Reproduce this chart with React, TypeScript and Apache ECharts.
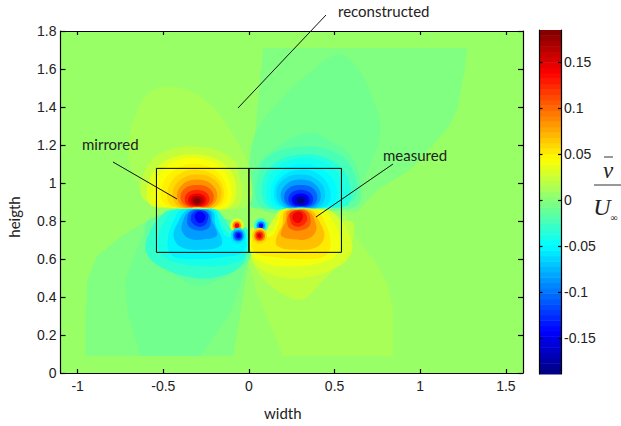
import React, { useEffect, useRef } from "react";
import * as echarts from "echarts";

type Pt = [number, number];
type Ring = { v: number; pts: Pt[]; smooth?: number };

const xTicks = [-1, -0.5, 0, 0.5, 1, 1.5];
const barTicks = [-0.15, -0.1, -0.05, 0, 0.05, 0.1, 0.15];
const backgroundValue = 0.0074;

// faint contours, upper right
const upperRight: Ring[] = [
  { v: -0.002, smooth: 0, pts: [[0.083, 1.71], [1.274, 1.71], [1.26, 1.6], [1.216, 1.384], [1.17, 1.3], [1.1, 1.226], [0.941, 1.068], [0.749, 0.963], [0.632, 0.847], [0.02, 0.88], [0.005, 1.07], [0.03, 1.2], [0.05, 1.4]] },
  { v: -0.007, smooth: 0.4, pts: [[0.008, 1.137], [0.05, 1.279], [0.2, 1.453], [0.358, 1.584], [0.515, 1.674], [0.62, 1.62], [0.726, 1.437], [0.767, 1.279], [0.708, 1.095], [0.64, 0.963], [0.56, 0.86], [0.02, 0.88]] },
  { v: -0.013, smooth: 0.4, pts: [[0.165, 1.19], [0.358, 1.265], [0.457, 1.23], [0.59, 1.15], [0.65, 1.0], [0.63, 0.88], [0.45, 0.87], [0.1, 0.87], [0.01, 0.88], [0.02, 1.05]] },
];
// faint contours, lower right
const lowerRight: Ring[] = [
  { v: 0.013, smooth: 0, pts: [[0.2, 0.089], [0.842, 0.089], [0.842, 0.33], [0.807, 0.474], [0.737, 0.584], [0.65, 0.684], [0.609, 0.753], [0.56, 0.83], [0.02, 0.75], [0.0, 0.58], [0.047, 0.42]] },
  { v: 0.022, smooth: 0.3, pts: [[0.005, 0.62], [0.107, 0.474], [0.3, 0.385], [0.434, 0.49], [0.515, 0.563], [0.573, 0.616], [0.61, 0.726], [0.6, 0.8], [0.02, 0.74]] },
];
// faint contours, upper left
const upperLeft: Ring[] = [
  { v: 0.013, smooth: 0.4, pts: [[0, 1.07], [-0.11, 1.28], [-0.255, 1.437], [-0.43, 1.505], [-0.576, 1.48], [-0.66, 1.36], [-0.7, 1.226], [-0.693, 1.095], [-0.6, 0.95], [-0.3, 0.88], [-0.01, 0.88]] },
];
// faint contours, lower left
const lowerLeft: Ring[] = [
  { v: -0.002, smooth: 0, pts: [[-0.955, 0.089], [-0.092, 0.089], [-0.004, 0.563], [-0.01, 0.72], [-0.4, 0.85], [-0.617, 0.789], [-0.734, 0.726], [-0.886, 0.616], [-0.944, 0.489], [-0.955, 0.279]] },
  { v: -0.007, smooth: 0, pts: [[-0.635, 0.089], [-0.284, 0.089], [-0.109, 0.316], [-0.01, 0.579], [-0.01, 0.7], [-0.4, 0.85], [-0.617, 0.737], [-0.722, 0.489], [-0.71, 0.33]] },
  { v: -0.012, smooth: 0.3, pts: [[0, 0.595], [-0.284, 0.458], [-0.477, 0.542], [-0.594, 0.668], [-0.588, 0.805], [-0.3, 0.85], [-0.01, 0.75]] },
];

// contours of the right half; the left half is the same with x and v negated
const upperLobe: Ring[] = [
  { v: -0.022, pts: [[0.28, 1.19], [0.48, 1.17], [0.6, 1.08], [0.62, 0.92], [0.45, 0.87], [0.3, 0.87], [0.08, 0.87], [0.04, 0.93], [0.05, 1.02], [0.1, 1.13]] },
  { v: -0.035, pts: [[0.3, 1.15], [0.48, 1.12], [0.58, 1.02], [0.58, 0.89], [0.45, 0.87], [0.3, 0.87], [0.12, 0.87], [0.075, 0.97], [0.13, 1.09]] },
  { v: -0.042, pts: [[0.3, 1.13], [0.46, 1.1], [0.545, 1.0], [0.54, 0.89], [0.45, 0.872], [0.3, 0.87], [0.14, 0.872], [0.1, 0.95], [0.15, 1.07]] },
  { v: -0.05, pts: [[0.3, 1.1], [0.43, 1.07], [0.51, 0.98], [0.49, 0.885], [0.4, 0.872], [0.3, 0.87], [0.17, 0.872], [0.125, 0.94], [0.175, 1.05]] },
  { v: -0.058, pts: [[0.3, 1.07], [0.41, 1.045], [0.475, 0.96], [0.45, 0.88], [0.3, 0.871], [0.18, 0.88], [0.145, 0.95], [0.195, 1.035]] },
  { v: -0.068, pts: [[0.3, 1.045], [0.395, 1.02], [0.445, 0.95], [0.41, 0.875], [0.3, 0.872], [0.2, 0.875], [0.16, 0.95], [0.205, 1.02]] },
  { v: -0.085, pts: [[0.303, 1.018], [0.385, 0.995], [0.42, 0.935], [0.39, 0.878], [0.303, 0.873], [0.22, 0.878], [0.185, 0.935], [0.22, 0.995]] },
  { v: -0.105, pts: [[0.303, 0.99], [0.37, 0.975], [0.4, 0.925], [0.37, 0.88], [0.303, 0.874], [0.235, 0.88], [0.205, 0.925], [0.235, 0.975]] },
  { v: -0.125, pts: [[0.303, 0.965], [0.355, 0.95], [0.375, 0.915], [0.355, 0.882], [0.303, 0.876], [0.25, 0.882], [0.23, 0.915], [0.25, 0.95]] },
  { v: -0.145, pts: [[0.303, 0.945], [0.34, 0.935], [0.355, 0.91], [0.34, 0.885], [0.303, 0.878], [0.265, 0.885], [0.25, 0.91], [0.265, 0.935]] },
  { v: -0.165, pts: [[0.303, 0.932], [0.33, 0.925], [0.34, 0.905], [0.325, 0.888], [0.303, 0.882], [0.28, 0.888], [0.265, 0.905], [0.275, 0.925]] },
  { v: -0.183, pts: [[0.303, 0.92], [0.32, 0.915], [0.322, 0.9], [0.303, 0.89], [0.285, 0.9], [0.285, 0.915]] },
];
const lowerLobe: Ring[] = [
  { v: 0.03, pts: [[0.285, 0.86], [0.44, 0.86], [0.5, 0.84], [0.58, 0.74], [0.6, 0.64], [0.52, 0.56], [0.32, 0.5], [0.16, 0.51], [0.05, 0.56], [0.01, 0.63], [0.01, 0.76], [0.1, 0.76], [0.15, 0.82], [0.19, 0.86]] },
  { v: 0.04, pts: [[0.285, 0.86], [0.42, 0.86], [0.47, 0.83], [0.53, 0.72], [0.52, 0.63], [0.42, 0.58], [0.25, 0.56], [0.1, 0.575], [0.02, 0.62], [0.02, 0.74], [0.12, 0.74], [0.16, 0.79], [0.2, 0.86]] },
  { v: 0.052, pts: [[0.285, 0.86], [0.39, 0.86], [0.43, 0.82], [0.475, 0.7], [0.45, 0.62], [0.33, 0.6], [0.15, 0.61], [0.03, 0.64], [0.03, 0.72], [0.13, 0.72], [0.17, 0.78], [0.2, 0.855]] },
  { v: 0.068, pts: [[0.285, 0.86], [0.365, 0.855], [0.41, 0.8], [0.44, 0.72], [0.39, 0.66], [0.25, 0.65], [0.165, 0.67], [0.16, 0.71], [0.195, 0.78], [0.21, 0.85]] },
  { v: 0.085, pts: [[0.285, 0.86], [0.35, 0.85], [0.385, 0.8], [0.39, 0.745], [0.34, 0.705], [0.25, 0.705], [0.19, 0.72], [0.19, 0.75], [0.215, 0.8], [0.225, 0.85]] },
  { v: 0.105, pts: [[0.285, 0.858], [0.34, 0.85], [0.36, 0.81], [0.35, 0.77], [0.3, 0.75], [0.25, 0.755], [0.225, 0.78], [0.235, 0.84]] },
  { v: 0.125, pts: [[0.285, 0.856], [0.325, 0.845], [0.34, 0.81], [0.325, 0.785], [0.29, 0.77], [0.255, 0.78], [0.24, 0.81], [0.24, 0.84]] },
  { v: 0.145, pts: [[0.285, 0.85], [0.31, 0.84], [0.315, 0.815], [0.29, 0.79], [0.262, 0.8], [0.255, 0.83]] },
];
const upperDot: Ring[] = [
  { v: -0.03, pts: [[0.07, 0.815], [0.105, 0.795], [0.105, 0.755], [0.07, 0.74], [0.035, 0.755], [0.035, 0.795]] },
  { v: -0.06, pts: [[0.07, 0.803], [0.095, 0.79], [0.095, 0.76], [0.07, 0.748], [0.045, 0.76], [0.045, 0.79]] },
  { v: -0.09, pts: [[0.07, 0.797], [0.09, 0.787], [0.09, 0.765], [0.07, 0.755], [0.05, 0.765], [0.05, 0.787]] },
  { v: -0.14, pts: [[0.07, 0.788], [0.082, 0.782], [0.082, 0.768], [0.07, 0.762], [0.058, 0.768], [0.058, 0.782]] },
];
const lowerDot: Ring[] = [
  { v: 0.06, pts: [[0.062, 0.765], [0.1, 0.745], [0.1, 0.7], [0.062, 0.68], [0.025, 0.7], [0.025, 0.745]] },
  { v: 0.09, pts: [[0.062, 0.752], [0.09, 0.74], [0.09, 0.705], [0.062, 0.692], [0.035, 0.705], [0.035, 0.74]] },
  { v: 0.12, pts: [[0.062, 0.745], [0.082, 0.735], [0.082, 0.71], [0.062, 0.7], [0.042, 0.71], [0.042, 0.735]] },
  { v: 0.15, pts: [[0.062, 0.735], [0.072, 0.73], [0.072, 0.716], [0.062, 0.71], [0.05, 0.716], [0.05, 0.73]] },
];

const rightWindow: Pt[] = [[0, 0.635], [0.54, 0.635], [0.54, 1.077], [0, 1.077], [0, 0.635]];
const leftWindow: Pt[] = [[0, 0.635], [-0.54, 0.635], [-0.54, 1.077], [0, 1.077], [0, 0.635]];

const barMin = -0.189;
const barMax = 0.185;
const clamp = (n: number) => Math.max(0, Math.min(1, n));
function jet(v: number) {
  const t = (v - barMin) / (barMax - barMin);
  const r = clamp(Math.min(4 * t - 1.5, -4 * t + 4.5));
  const g = clamp(Math.min(4 * t - 0.5, -4 * t + 3.5));
  const b = clamp(Math.min(4 * t + 0.5, -4 * t + 2.5));
  return `rgb(${Math.round(r * 255)},${Math.round(g * 255)},${Math.round(b * 255)})`;
}
const mirror = (rings: Ring[]): Ring[] =>
  rings.map((r) => ({ v: -r.v, smooth: r.smooth, pts: r.pts.map(([x, y]) => [-x, y] as Pt) }));

const allRings: Ring[] = [
  ...upperRight, ...lowerRight, ...upperLeft, ...lowerLeft,
  ...upperLobe, ...mirror(upperLobe),
  ...lowerLobe, ...mirror(lowerLobe),
  ...upperDot, ...mirror(upperDot),
  ...lowerDot, ...mirror(lowerDot),
];

const barLevels = Array.from({ length: 64 }, (_, k) => k);

const TICK_FONT = "Liberation Sans";
const NOTE_FONT = "Lato";
const INK = "#222";

export default function App() {
  const ref = useRef<HTMLDivElement>(null);
  useEffect(() => {
    document.body.style.margin = "0";
    const chart = echarts.init(ref.current!, undefined, { renderer: "svg" });
    const tickLabel = { color: INK, fontFamily: TICK_FONT, fontSize: 14 };
    const blackLine = { lineStyle: { color: "#000", width: 1.2 } };
    const noteText = (text: string, x: number, y: number, rotation = 0) => ({
      type: "text", x, y, rotation, z: 30,
      style: { text, fill: INK, font: `15px ${NOTE_FONT}`, textAlign: rotation ? "center" : "left", textVerticalAlign: "middle" },
    });
    const noteLine = (x1: number, y1: number, x2: number, y2: number) => ({
      type: "line", shape: { x1, y1, x2, y2 }, style: { stroke: "#111", lineWidth: 1 }, z: 30,
    });
    chart.setOption({
      animation: false,
      grid: [
        { left: 60.5, top: 31, width: 462.5, height: 342, show: true, backgroundColor: jet(backgroundValue), borderWidth: 0 },
        { left: 539.5, top: 30, width: 21.5, height: 344 },
      ],
      xAxis: [
        {
          type: "value", gridIndex: 0, min: -1.1, max: 1.6, z: 5,
          axisLine: { show: true, onZero: false, ...blackLine },
          axisTick: { inside: true, length: 4, customValues: xTicks, ...blackLine },
          axisLabel: { ...tickLabel, margin: 6, customValues: xTicks, formatter: (v: number) => String(v) },
          splitLine: { show: false },
        },
        {
          type: "value", gridIndex: 0, min: -1.1, max: 1.6, z: 5, position: "top",
          axisLine: { show: true, onZero: false, ...blackLine },
          axisTick: { inside: true, length: 4, customValues: xTicks, ...blackLine },
          axisLabel: { show: false }, splitLine: { show: false },
        },
        { type: "value", gridIndex: 1, min: 0, max: 1, show: false },
      ],
      yAxis: [
        {
          type: "value", gridIndex: 0, min: 0, max: 1.8, interval: 0.2, z: 5,
          axisLine: { show: true, onZero: false, ...blackLine },
          axisTick: { inside: true, length: 5, ...blackLine },
          axisLabel: { ...tickLabel, margin: 4, formatter: (v: number) => String(Math.round(v * 10) / 10) },
          splitLine: { show: false },
        },
        {
          type: "value", gridIndex: 0, min: 0, max: 1.8, interval: 0.2, z: 5, position: "right",
          axisLine: { show: true, onZero: false, ...blackLine },
          axisTick: { inside: true, length: 5, ...blackLine },
          axisLabel: { show: false }, splitLine: { show: false },
        },
        {
          type: "value", gridIndex: 1, min: barMin, max: barMax, z: 5, position: "right",
          axisLine: { show: true, onZero: false, ...blackLine },
          axisTick: { inside: true, length: 3, customValues: barTicks, ...blackLine },
          axisLabel: { ...tickLabel, margin: 3, customValues: barTicks, formatter: (v: number) => String(v) },
          splitLine: { show: false },
        },
        {
          type: "value", gridIndex: 1, min: barMin, max: barMax, z: 5, position: "left",
          axisLine: { show: true, onZero: false, ...blackLine },
          axisTick: { inside: true, length: 3, customValues: barTicks, ...blackLine },
          axisLabel: { show: false }, splitLine: { show: false },
        },
      ],
      series: [
        {
          type: "custom", xAxisIndex: 0, yAxisIndex: 0, silent: true, clip: true, z: 2,
          data: allRings.map((_, i) => [i]),
          renderItem: (params: any, api: any) => {
            const r = allRings[params.dataIndex];
            return {
              type: "polygon",
              shape: { points: r.pts.map((p) => api.coord(p)), smooth: r.smooth === undefined ? 0.4 : r.smooth },
              style: { fill: jet(r.v) },
            };
          },
        },
        {
          type: "line", xAxisIndex: 0, yAxisIndex: 0, data: rightWindow, showSymbol: false, z: 4, silent: true,
          lineStyle: { color: "#000", width: 1 },
        },
        {
          type: "line", xAxisIndex: 0, yAxisIndex: 0, data: leftWindow, showSymbol: false, z: 4, silent: true,
          lineStyle: { color: "#000", width: 1 },
        },
        {
          type: "custom", xAxisIndex: 2, yAxisIndex: 2, silent: true, z: 2,
          data: barLevels.map((k) => [k]),
          renderItem: (params: any, api: any) => {
            const k = params.dataIndex;
            const step = (barMax - barMin) / 64;
            const lo = barMin + k * step;
            const a = api.coord([0, lo]);
            const b = api.coord([1, lo + step]);
            return {
              type: "rect",
              shape: { x: a[0], y: b[1], width: b[0] - a[0], height: a[1] - b[1] + 0.5 },
              style: { fill: jet(lo + step / 2) },
            };
          },
        },
      ],
      graphic: [
        noteLine(238, 108, 326, 15),
        noteLine(113, 162, 177, 199),
        noteLine(393, 164, 316, 217),
        noteText("reconstructed", 338, 11),
        noteText("mirrored", 82, 144),
        noteText("measured", 383, 155),
        noteText("width", 264, 413),
        noteText("heigth", 14, 217, Math.PI / 2),
        { type: "line", z: 30, shape: { x1: 604, y1: 157, x2: 613, y2: 157 }, style: { stroke: "#333", lineWidth: 1 } },
        { type: "line", z: 30, shape: { x1: 594, y1: 185, x2: 621, y2: 185 }, style: { stroke: "#333", lineWidth: 1 } },
        { type: "text", z: 30, x: 608, y: 170, style: { text: "v", fill: "#222", font: "italic 23px Liberation Serif", textAlign: "center", textVerticalAlign: "middle" } },
        { type: "text", z: 30, x: 602, y: 207, style: { text: "U", fill: "#222", font: "italic 24px Liberation Serif", textAlign: "center", textVerticalAlign: "middle" } },
        { type: "text", z: 30, x: 614, y: 217, style: { text: "∞", fill: "#222", font: "10px Liberation Serif", textAlign: "center", textVerticalAlign: "middle" } },
      ],
    });
    return () => chart.dispose();
  }, []);
  return <div ref={ref} style={{ width: 621, height: 426, position: "absolute", left: 0, top: 0 }} />;
}
